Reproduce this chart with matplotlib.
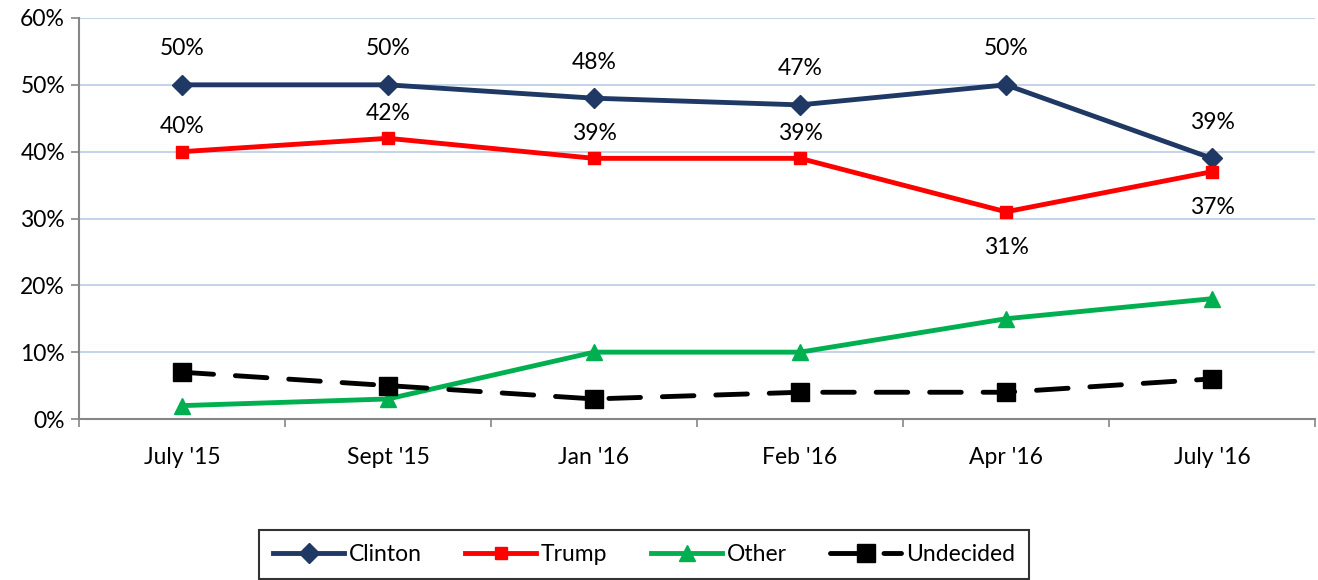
import matplotlib.pyplot as plt
from matplotlib.ticker import FuncFormatter

plt.rcParams['font.family'] = ['Lato', 'DejaVu Sans']

# Data
dates = ["July '15", "Sept '15", "Jan '16", "Feb '16", "Apr '16", "July '16"]
clinton = [50, 50, 48, 47, 50, 39]
trump = [40, 42, 39, 39, 31, 37]
other = [2, 3, 10, 10, 15, 18]
undecided = [7, 5, 3, 4, 4, 6]

x = list(range(len(dates)))
fs = 16.5

fig = plt.figure(figsize=(13.18, 5.8), dpi=100)
ax = fig.add_axes([79 / 1318, 1 - 419 / 580, 1236 / 1318, 401 / 580])

ax.plot(x, clinton, color='#1f3864', lw=3.5, marker='D', ms=10, label='Clinton', zorder=4)
ax.plot(x, trump, color='#ff0000', lw=3.5, marker='s', ms=9, label='Trump', zorder=4)
ax.plot(x, other, color='#00b050', lw=3.5, marker='^', ms=12, label='Other', zorder=3)
ax.plot(x, undecided, color='black', lw=3.5, ls=(0, (6.5, 4.5)), dash_capstyle='round',
        marker='s', ms=13, label='Undecided', zorder=3)

# Data labels
for i, v in enumerate(clinton):
    ax.annotate(f'{v}%', (i, v), xytext=(0, 26), textcoords='offset points',
                ha='center', va='center', fontsize=fs)
for i, v in enumerate(trump):
    off = 18 if i < 4 else -26
    ax.annotate(f'{v}%', (i, v), xytext=(0, off), textcoords='offset points',
                ha='center', va='center', fontsize=fs)

ax.set_xlim(-0.5, len(dates) - 0.5)
ax.set_ylim(0, 60)
ax.set_yticks(range(0, 61, 10))
ax.yaxis.set_major_formatter(FuncFormatter(lambda v, p: f'{int(v)}%'))
ax.set_xticks(x)
ax.set_xticklabels(dates)
ax.set_xticks([i - 0.5 for i in range(len(dates) + 1)], minor=True)
ax.tick_params(axis='x', which='major', length=0, pad=20, labelsize=fs)
ax.tick_params(axis='x', which='minor', length=6, color='#868686', width=1.2)
ax.tick_params(axis='y', length=6, color='#868686', width=1.2, labelsize=fs, pad=4)

ax.grid(axis='y', color='#b9cde5', lw=1.2)
ax.set_axisbelow(True)
for s in ['top', 'right']:
    ax.spines[s].set_visible(False)
for s in ['left', 'bottom']:
    ax.spines[s].set_color('#868686')
    ax.spines[s].set_linewidth(1.5)

leg = fig.legend(loc='upper center', bbox_to_anchor=(644 / 1318, 1 - 530 / 580),
                 ncol=4, fontsize=fs, frameon=True, fancybox=False, edgecolor='black',
                 handlelength=3.1, handletextpad=0.2, columnspacing=1.9,
                 borderpad=0.6, borderaxespad=0)
leg.get_frame().set_linewidth(1.5)

fig.savefig('out.png', dpi=100)
